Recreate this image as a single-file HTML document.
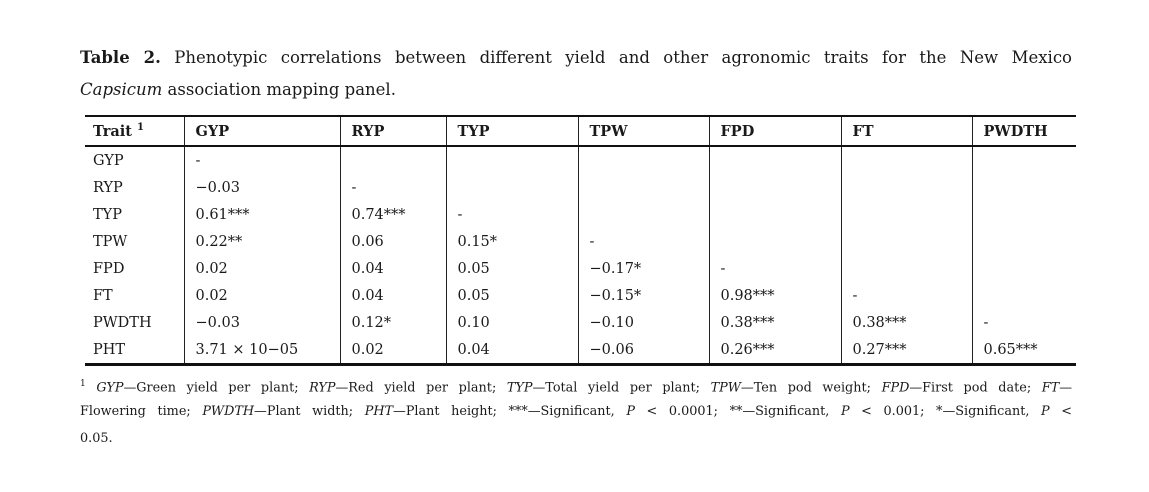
<!DOCTYPE html>
<html><head><meta charset="utf-8">
<style>
html,body{margin:0;padding:0;background:#fff;}
body{width:1149px;height:492px;position:relative;overflow:hidden;font-family:"DejaVu Serif","Liberation Serif",serif;color:#1a1a1a;}
.cap{position:absolute;left:80px;width:992px;font-size:16.5px;line-height:32px;}
.just{text-align:justify;text-align-last:justify;}
table{position:absolute;left:85px;top:115px;border-collapse:collapse;table-layout:fixed;font-size:14.5px;}
td,th{padding:0 0 0 11px;text-align:left;height:27px;border-left:1.5px solid #222;white-space:nowrap;}
td:first-child,th:first-child{border-left:none;padding-left:8px;}
th{font-weight:bold;height:28px;border-bottom:2px solid #111;}
thead tr{border-top:2.5px solid #111;}
tbody tr:last-child{border-bottom:3px solid #111;}
.fn{position:absolute;left:80px;width:992px;font-size:12.8px;line-height:27px;}
</style></head><body>
<div class="cap just" style="top:42px"><b>Table 2.</b> Phenotypic correlations between different yield and other agronomic traits for the New Mexico</div>
<div class="cap" style="top:74px"><i>Capsicum</i> association mapping panel.</div>
<table>
<colgroup><col style="width:99px"><col style="width:156px"><col style="width:106px"><col style="width:132px"><col style="width:131px"><col style="width:132px"><col style="width:131px"><col style="width:104px"></colgroup>
<thead><tr><th>Trait <sup style="font-size:10px">1</sup></th><th>GYP</th><th>RYP</th><th>TYP</th><th>TPW</th><th>FPD</th><th>FT</th><th>PWDTH</th></tr></thead>
<tbody>
<tr><td>GYP</td><td>-</td><td></td><td></td><td></td><td></td><td></td><td></td></tr>
<tr><td>RYP</td><td>−0.03</td><td>-</td><td></td><td></td><td></td><td></td><td></td></tr>
<tr><td>TYP</td><td>0.61***</td><td>0.74***</td><td>-</td><td></td><td></td><td></td><td></td></tr>
<tr><td>TPW</td><td>0.22**</td><td>0.06</td><td>0.15*</td><td>-</td><td></td><td></td><td></td></tr>
<tr><td>FPD</td><td>0.02</td><td>0.04</td><td>0.05</td><td>−0.17*</td><td>-</td><td></td><td></td></tr>
<tr><td>FT</td><td>0.02</td><td>0.04</td><td>0.05</td><td>−0.15*</td><td>0.98***</td><td>-</td><td></td></tr>
<tr><td>PWDTH</td><td>−0.03</td><td>0.12*</td><td>0.10</td><td>−0.10</td><td>0.38***</td><td>0.38***</td><td>-</td></tr>
<tr><td>PHT</td><td>3.71 × 10−05</td><td>0.02</td><td>0.04</td><td>−0.06</td><td>0.26***</td><td>0.27***</td><td>0.65***</td></tr>
</tbody></table>
<div class="fn just" style="top:371px"><sup style="font-size:9px">1</sup> <i>GYP</i>—Green yield per plant; <i>RYP</i>—Red yield per plant; <i>TYP</i>—Total yield per plant; <i>TPW</i>—Ten pod weight; <i>FPD</i>—First pod date; <i>FT</i>—</div>
<div class="fn just" style="top:398px">Flowering time; <i>PWDTH</i>—Plant width; <i>PHT</i>—Plant height; ***—Significant, <i>P</i> &lt; 0.0001; **—Significant, <i>P</i> &lt; 0.001; *—Significant, <i>P</i> &lt;</div>
<div class="fn" style="top:425px">0.05.</div>
</body></html>
